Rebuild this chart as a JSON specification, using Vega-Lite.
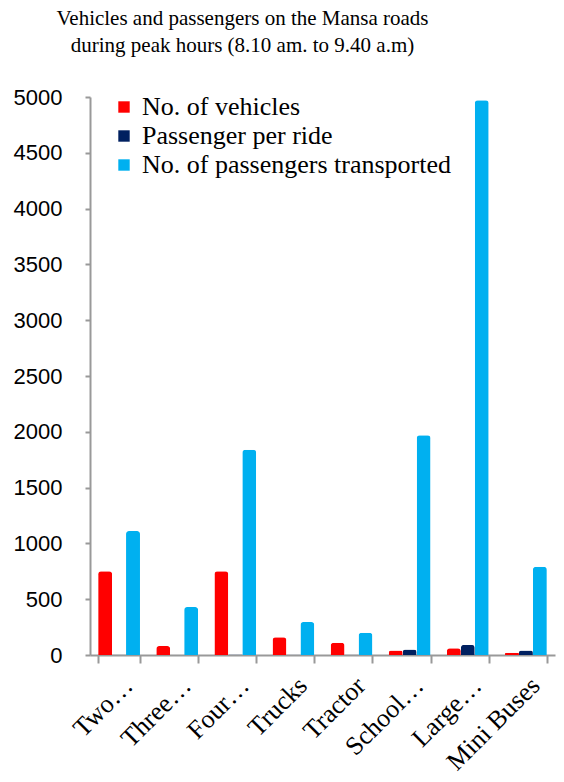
{
  "$schema": "https://vega.github.io/schema/vega-lite/v6.json",
  "autosize": "none",
  "width": 465,
  "height": 558,
  "padding": {"left": 90, "top": 97, "right": 9, "bottom": 127},
  "background": "white",
  "title": {
    "text": ["Vehicles and passengers on the Mansa roads", "during peak hours (8.10 am. to 9.40 a.m)"],
    "font": "Liberation Serif",
    "fontSize": 21,
    "fontWeight": "normal",
    "color": "black",
    "anchor": "middle",
    "frame": "group",
    "dx": -80,
    "offset": 30,
    "lineHeight": 27
  },
  "data": {
    "values": [
      {"type": "Two…", "series": "No. of vehicles", "value": 750},
      {"type": "Two…", "series": "Passenger per ride", "value": 2},
      {"type": "Two…", "series": "No. of passengers transported", "value": 1110},
      {"type": "Three…", "series": "No. of vehicles", "value": 80},
      {"type": "Three…", "series": "Passenger per ride", "value": 3},
      {"type": "Three…", "series": "No. of passengers transported", "value": 430},
      {"type": "Four…", "series": "No. of vehicles", "value": 750},
      {"type": "Four…", "series": "Passenger per ride", "value": 4},
      {"type": "Four…", "series": "No. of passengers transported", "value": 1840},
      {"type": "Trucks", "series": "No. of vehicles", "value": 160},
      {"type": "Trucks", "series": "Passenger per ride", "value": 2},
      {"type": "Trucks", "series": "No. of passengers transported", "value": 295},
      {"type": "Tractor", "series": "No. of vehicles", "value": 110},
      {"type": "Tractor", "series": "Passenger per ride", "value": 2},
      {"type": "Tractor", "series": "No. of passengers transported", "value": 200},
      {"type": "School…", "series": "No. of vehicles", "value": 40},
      {"type": "School…", "series": "Passenger per ride", "value": 50},
      {"type": "School…", "series": "No. of passengers transported", "value": 1970},
      {"type": "Large…", "series": "No. of vehicles", "value": 60},
      {"type": "Large…", "series": "Passenger per ride", "value": 90},
      {"type": "Large…", "series": "No. of passengers transported", "value": 4970},
      {"type": "Mini Buses", "series": "No. of vehicles", "value": 20},
      {"type": "Mini Buses", "series": "Passenger per ride", "value": 40},
      {"type": "Mini Buses", "series": "No. of passengers transported", "value": 790}
    ]
  },
  "mark": {"type": "bar", "cornerRadiusTopLeft": 3, "cornerRadiusTopRight": 3},
  "encoding": {
    "x": {
      "field": "type",
      "type": "nominal",
      "sort": null,
      "title": null,
      "scale": {"paddingInner": 0.28, "paddingOuter": 0.14},
      "axis": {
        "labelAngle": -45,
        "labelFont": "Liberation Serif",
        "labelFontSize": 26,
        "labelColor": "black",
        "labelPadding": 9,
        "labelOffset": 0,
        "labelLimit": 200,
        "domainColor": "#999999",
        "domainWidth": 2,
        "tickColor": "#999999",
        "tickWidth": 2,
        "tickSize": 8,
        "tickBand": "extent"
      }
    },
    "xOffset": {
      "field": "series",
      "type": "nominal",
      "sort": ["No. of vehicles", "Passenger per ride", "No. of passengers transported"],
      "scale": {"paddingInner": 0}
    },
    "y": {
      "field": "value",
      "type": "quantitative",
      "title": null,
      "scale": {"domain": [0, 5000], "nice": false},
      "axis": {
        "values": [0, 500, 1000, 1500, 2000, 2500, 3000, 3500, 4000, 4500, 5000],
        "format": "d",
        "grid": false,
        "labelFont": "Liberation Sans",
        "labelFontSize": 22,
        "labelColor": "black",
        "labelPadding": 23,
        "domainColor": "#999999",
        "domainWidth": 2,
        "tickColor": "#999999",
        "tickWidth": 2,
        "tickSize": 5
      }
    },
    "color": {
      "field": "series",
      "type": "nominal",
      "title": null,
      "scale": {
        "domain": ["No. of vehicles", "Passenger per ride", "No. of passengers transported"],
        "range": ["#FF0000", "#002060", "#00B0F0"]
      },
      "legend": {
        "orient": "none",
        "legendX": 21,
        "legendY": -3,
        "symbolType": "square",
        "symbolSize": 130,
        "symbolStrokeWidth": 0,
        "labelFont": "Liberation Serif",
        "labelFontSize": 26,
        "labelColor": "black",
        "labelLimit": 400,
        "labelOffset": 5,
        "rowPadding": 3
      }
    }
  },
  "config": {
    "view": {"stroke": null}
  }
}
